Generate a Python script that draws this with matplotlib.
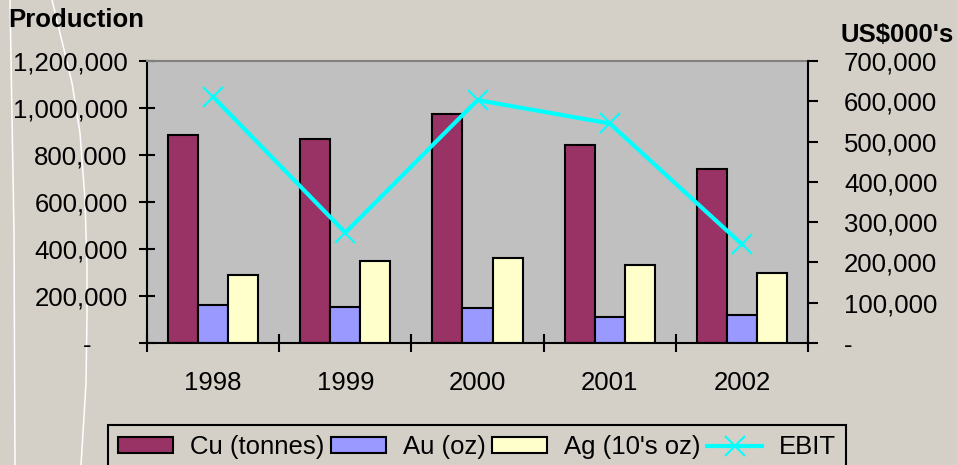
import numpy as np
import matplotlib.pyplot as plt
from matplotlib.ticker import FuncFormatter
from matplotlib.lines import Line2D

# data
years = ['1998', '1999', '2000', '2001', '2002']
cu_tonnes = [885000, 869000, 974000, 843000, 740000]
au_oz = [162000, 154000, 149000, 109000, 119000]
ag_10oz = [289000, 350000, 362000, 332000, 299000]
ebit = [611000, 274000, 603000, 545000, 245000]

plt.rcParams['font.family'] = ['Liberation Sans', 'DejaVu Sans']

BG = '#D4D0C8'
W, H = 957, 465
fig = plt.figure(figsize=(W / 100, H / 100), dpi=100, facecolor=BG)

##Background swirl lines (slide decoration)
deco1 = [(10, 0), (14, 233), (15, 465)]
deco2 = [(52, 0), (60, 33), (72, 83), (80, 133), (85, 200), (87, 267),
         (87, 317), (86, 383), (83, 433), (81, 465)]
for pts in (deco1, deco2):
    px, py = zip(*pts)
    fig.add_artist(Line2D(np.array(px) / W, 1 - np.array(py) / H, transform=fig.transFigure,
                          color='white', lw=1.1, zorder=0))

ax = fig.add_axes([147 / W, 1 - 343 / H, 661 / W, 282 / H])
ax.set_facecolor('#C0C0C0')

x = np.arange(len(years))
w = 0.227
ec = dict(edgecolor='black', linewidth=1.5)
b_cu = ax.bar(x - w, cu_tonnes, w, color='#993366', label='Cu (tonnes)', **ec)
b_au = ax.bar(x, au_oz, w, color='#9999FF', label='Au (oz)', **ec)
b_ag = ax.bar(x + w, ag_10oz, w, color='#FFFFCC', label="Ag (10's oz)", **ec)

ax.set_xlim(-0.5, len(years) - 0.5)
ax.set_ylim(0, 1200000)
ax.set_yticks(np.arange(0, 1200001, 200000))
ax.yaxis.set_major_formatter(FuncFormatter(lambda v, p: '-     ' if v == 0 else f'{v:,.0f}'))
ax.tick_params(axis='y', direction='inout', length=12, width=1.5, pad=8, labelsize=18.5)

#Ticks between categories, labels at category centres
ax.set_xticks(np.arange(-0.5, len(years), 1.0))
ax.set_xticklabels([])
ax.set_xticks(x, minor=True)
ax.set_xticklabels(years, minor=True)
ax.tick_params(axis='x', which='major', direction='inout', length=13, width=1.5)
ax.tick_params(axis='x', which='minor', length=0, pad=20.5, labelsize=18.5)

for s in ('left', 'bottom'):
    ax.spines[s].set_linewidth(1.5)
ax.spines['top'].set_color('#808080')
ax.spines['top'].set_linewidth(1.5)
ax.spines['right'].set_visible(False)

ax2 = ax.twinx()
ln, = ax2.plot(x, ebit, color='#00FFFF', lw=3, marker='x', ms=15, mew=1.5, label='EBIT')
ax2.set_ylim(0, 700000)
ax2.set_yticks(np.arange(0, 700001, 100000))
ax2.yaxis.set_major_formatter(FuncFormatter(lambda v, p: '-' if v == 0 else f'{v:,.0f}'))
ax2.tick_params(axis='y', direction='out', length=7, width=1.5, pad=19, labelsize=18.5)
for s in ('left', 'top', 'bottom'):
    ax2.spines[s].set_visible(False)
ax2.spines['right'].set_linewidth(1.5)

fig.text(8 / W, 1 - 27 / H, 'Production', fontsize=18.5, fontweight='bold', va='baseline')
fig.text(840 / W, 1 - 42 / H, r"US\$000's", fontsize=18.5, fontweight='bold', va='baseline')

leg = fig.legend([b_cu, b_au, b_ag, ln], ['Cu (tonnes)', 'Au (oz)', "Ag (10's oz)", 'EBIT'],
                 loc='upper left', bbox_to_anchor=(108 / W, 1 - 425 / H), ncol=4, fontsize=18.5,
                 frameon=True, fancybox=False, edgecolor='black', facecolor=BG, framealpha=1,
                 handlelength=2.14, handleheight=0.55, handletextpad=0.66, columnspacing=0.25,
                 borderaxespad=0, borderpad=0.4)
leg.get_frame().set_linewidth(1.5)

fig.savefig('out.png', dpi=100, facecolor=BG)
